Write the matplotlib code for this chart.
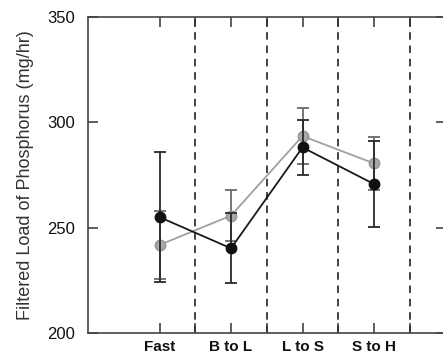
import matplotlib
matplotlib.use("Agg")
import matplotlib.pyplot as plt

plt.rcParams['font.family'] = ['Liberation Sans', 'DejaVu Sans']

categories = ["Fast", "B to L", "L to S", "S to H"]
black_vals = [255.0, 240.2, 288.1, 270.7]
black_err = [31.0, 16.6, 13.0, 20.5]
gray_vals = [241.8, 255.7, 293.5, 280.5]
gray_err = [16.3, 12.0, 13.5, 12.6]
dividers = [1.5, 2.5, 3.5, 4.5]
yticks = [200, 250, 300, 350]

fig = plt.figure(figsize=(4.43, 3.6), dpi=100)
ax = fig.add_axes([88/443, 27/360, (445.5-88)/443, (333-17)/360])

x = list(range(1, len(categories) + 1))

for d in dividers:
    ax.axvline(d, color='#222222', lw=1.2, ls=(0, (4.5, 3.5)), zorder=1)

ax.errorbar(x, gray_vals, yerr=gray_err, color='#a0a0a0', lw=1.3,
            marker='o', ms=7.5, mfc='#a8a8a8', mec='#959595',
            ecolor='#6a6a6a', elinewidth=1.3, capsize=4, capthick=1.3, zorder=3)
ax.errorbar(x, black_vals, yerr=black_err, color='#1a1a1a', lw=1.3,
            marker='o', ms=7.5, mfc='#111111', mec='#111111',
            ecolor='#2a2a2a', elinewidth=1.3, capsize=4, capthick=1.3, zorder=4)

ax.set_xlim(0, 5)
ax.set_ylim(200, 350)
ticks = sorted(x + dividers)
ax.set_xticks(ticks)
ax.set_xticklabels([categories[int(t) - 1] if float(t).is_integer() else '' for t in ticks],
                   fontsize=11, fontweight='bold', color='#111111')
ax.set_yticks(yticks)
ax.set_yticklabels([str(v) for v in yticks], fontsize=12, color='#111111')
ax.tick_params(axis='both', direction='in', length=7, width=1.1, color='#333333',
               top=True, right=True, pad=5)
ax.tick_params(axis='y', pad=9)
for s in ax.spines.values():
    s.set_color('#444444')
    s.set_linewidth(1.2)

ax.set_ylabel("Filtered Load of Phosphorus (mg/hr)", fontsize=13, color='#333333', labelpad=10)

fig.savefig("out.png", dpi=100)
